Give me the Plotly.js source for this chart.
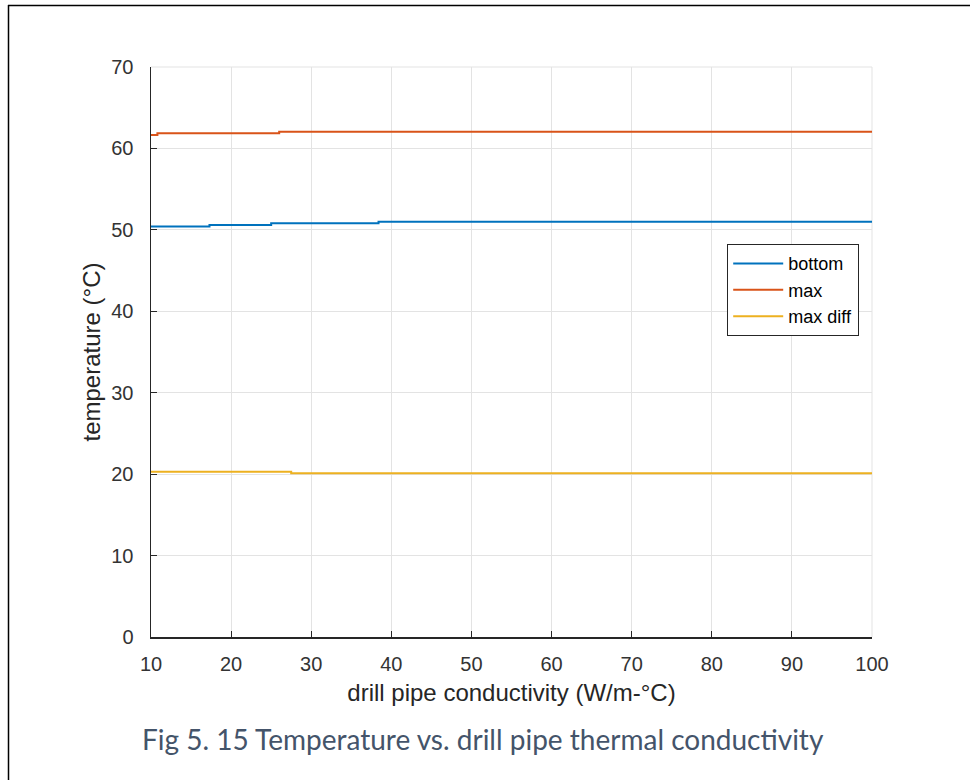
<!DOCTYPE html>
<html>
<head>
<meta charset="utf-8">
<script src="https://cdn.plot.ly/plotly-3.0.1.min.js"></script>
<style>
html,body{margin:0;padding:0;background:#fff;}
#chart{width:970px;height:780px;}
</style>
</head>
<body>
<div id="chart"></div>
<script>
// Data (step changes with 'hv' lines)
const bottomX = [10, 17.3, 25.0, 38.4, 100];
const bottomY = [50.4, 50.6, 50.8, 51.0, 51.0];
const maxX = [10, 10.8, 26.0, 100];
const maxY = [61.65, 61.85, 62.05, 62.05];
const diffX = [10, 27.5, 100];
const diffY = [20.3, 20.1, 20.1];
const seriesNames = ["bottom", "max", "max diff"];
const xTicks = [10, 20, 30, 40, 50, 60, 70, 80, 90, 100];
const yTicks = [0, 10, 20, 30, 40, 50, 60, 70];
const caption = "Fig 5. 15 Temperature vs. drill pipe thermal conductivity";

const colors = ["#0072BD", "#D95319", "#EDB120"];
const traces = [
  {x: bottomX, y: bottomY, name: seriesNames[0]},
  {x: maxX, y: maxY, name: seriesNames[1]},
  {x: diffX, y: diffY, name: seriesNames[2]}
].map((t, i) => Object.assign(t, {
  type: "scatter", mode: "lines",
  line: {color: colors[i], width: 2, shape: "hv"}
}));

const L = 151, R = 872, T = 67, B = 637;
const W = R - L, H = B - T;
const px = v => (v - L) / W;
const py = v => (B - v) / H;

const fam = "Liberation Sans, Arial, sans-serif";
const axisFont = {family: fam, size: 20, color: "#333"};
const titleFont = {family: fam, size: 24, color: "#262626"};

const layout = {
  width: 970, height: 780,
  margin: {l: L, r: 970 - R, t: T, b: 780 - B},
  paper_bgcolor: "#fff", plot_bgcolor: "#fff",
  showlegend: true,
  xaxis: {
    range: [10, 100], tickvals: xTicks, ticktext: xTicks.map(String),
    ticks: "inside", ticklen: 6, tickcolor: "#262626", tickwidth: 1.2,
    showline: true, linecolor: "#262626", linewidth: 1.5,
    showgrid: true, gridcolor: "#e3e3e3", gridwidth: 1,
    zeroline: false, tickfont: axisFont, ticklabelstandoff: 8,
    title: {text: "drill pipe conductivity (W/m-°C)", font: titleFont, standoff: 10}
  },
  yaxis: {
    range: [0, 70], tickvals: yTicks, ticktext: yTicks.map(String),
    ticks: "inside", ticklen: 6, tickcolor: "#262626", tickwidth: 1.2,
    showline: true, linecolor: "#262626", linewidth: 1.5,
    showgrid: true, gridcolor: "#e3e3e3", gridwidth: 1,
    zeroline: false, tickfont: axisFont, ticklabelstandoff: 12,
    title: {text: "temperature (°C)", font: titleFont, standoff: 4}
  },
  legend: {
    x: px(727), y: py(244), xanchor: "left", yanchor: "top",
    bgcolor: "#fff", bordercolor: "#262626", borderwidth: 1.2,
    font: {family: fam, size: 18, color: "#000"},
    tracegroupgap: 0, itemwidth: 50
  },
  annotations: [{
    xref: "paper", yref: "paper", x: px(483), y: py(739),
    xanchor: "center", yanchor: "middle", showarrow: false,
    text: caption,
    font: {family: "Lato, Open Sans, sans-serif", size: 28, color: "#44546A"}
  }],
  shapes: [
    {type: "line", xref: "paper", yref: "paper", x0: px(8.5), x1: px(8.5), y0: py(5), y1: py(790), line: {color: "#000", width: 1.5}},
    {type: "line", xref: "paper", yref: "paper", x0: px(8), x1: px(975), y0: py(5.5), y1: py(5.5), line: {color: "#000", width: 1.5}},
    {type: "line", xref: "paper", yref: "paper", x0: 1, x1: 1, y0: 0, y1: 1, line: {color: "#e3e3e3", width: 1}, layer: "below"},
    {type: "line", xref: "paper", yref: "paper", x0: 0, x1: 1, y0: 1, y1: 1, line: {color: "#e3e3e3", width: 1}, layer: "below"}
  ]
};

Plotly.newPlot("chart", traces, layout, {staticPlot: true, displayModeBar: false});
</script>
</body>
</html>
